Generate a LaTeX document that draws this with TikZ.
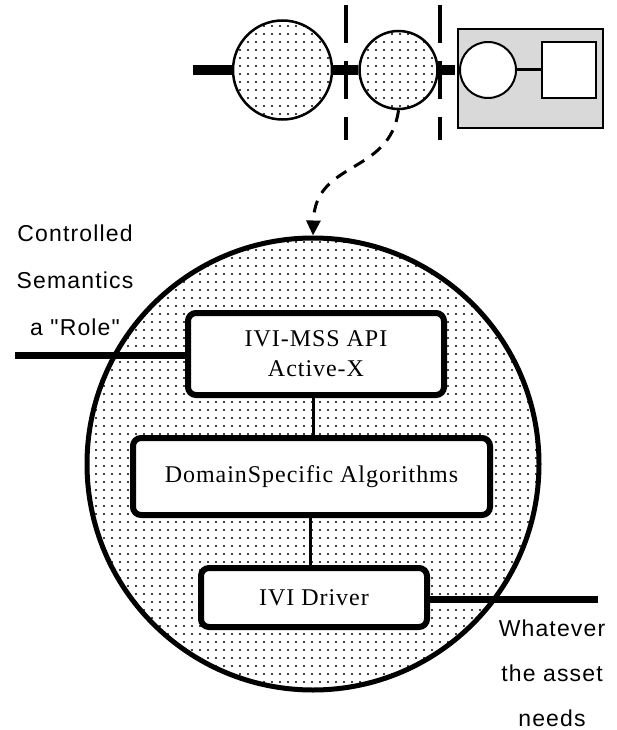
\documentclass[tikz,border=0pt]{standalone}
\usepackage{fontspec}
\setmainfont{Liberation Serif}
\newfontfamily\labelfont[LetterSpace=5]{Liberation Sans}
\newfontfamily\boxfont[LetterSpace=4]{Liberation Serif}
\usetikzlibrary{patterns.meta,arrows.meta}

\tikzset{
  dotfill/.style={pattern={Dots[radius=1.1pt,distance=8pt]}},
  layerbox/.style={draw, rectangle, rounded corners=8pt, line width=6pt, fill=white,
    inner sep=0pt, align=center, font=\boxfont\fontsize{24}{30}\selectfont},
  sidelabel/.style={align=center, inner sep=0pt, font=\labelfont\fontsize{23}{47}\selectfont},
  chain/.style={line width=10pt},
  link/.style={line width=3pt},
  cut/.style={line width=3.5pt, dash pattern=on 38pt off 18pt},
}

\begin{document}
\begin{tikzpicture}[x=1pt, y=-1pt, >={Triangle[length=15pt,width=14pt]}]
  \useasboundingbox (0,0) rectangle (616,730);
  % ------- top: the chain of assets -------
  \node[draw, circle, line width=2.5pt, dotfill, minimum size=99pt, inner sep=0pt] (asset1) at (282.5,70) {};
  \node[draw, circle, line width=2.5pt, dotfill, minimum size=78pt, inner sep=0pt] (asset2) at (398.5,70) {};
  \node[draw, rectangle, line width=2pt, fill=gray!30, minimum width=145pt, minimum height=99pt, inner sep=0pt] (hw) at (530.5,78.5) {};
  \node[draw, circle, line width=2pt, fill=white, minimum size=56pt, inner sep=0pt] (hwport) at (488,70) {};
  \node[draw, rectangle, line width=2pt, fill=white, minimum width=54pt, minimum height=56pt, inner sep=0pt] (hwdev) at (569,70) {};
  \coordinate (chainstart) at (193,70);
  \draw[chain] (chainstart) -- (asset1.west);
  \draw[chain] (asset1.east) -- (asset2.west);
  \draw[chain] (asset2.east) -- (455,70);
  \draw[link] (hwport.east) -- (hwdev.west);
  \foreach \x in {346,440} {
    \draw[cut] (\x,5) -- (\x,140);
  }
  % ------- the big asset, opened up -------
  \node[draw, circle, line width=5pt, dotfill, minimum size=452pt, inner sep=0pt] (core) at (313,464) {};
  \draw[line width=3pt, dash pattern=on 12pt off 9pt, ->] (asset2.south) .. controls (390,175) and (315,160) .. (core.north);
  \node[layerbox, minimum width=256pt, minimum height=82pt] (api) at (316,354) {IVI-MSS API\\Active-X};
  \node[layerbox, minimum width=357pt, minimum height=77pt] (algo) at (311.5,476.5) {DomainSpecific Algorithms};
  \node[layerbox, minimum width=226pt, minimum height=59pt] (driver) at (314,597.5) {IVI Driver};
  \draw[link] (api.south -| 313,0) -- (algo.north -| 313,0);
  \draw[link] (algo.south -| 310,0) -- (driver.north -| 310,0);
  % ------- outside connections -------
  \coordinate (roleend) at (15,355);
  \coordinate (assetend) at (598,599);
  \draw[line width=7pt] (roleend) -- (api.west |- roleend);
  \draw[line width=7pt] (driver.east |- assetend) -- (assetend);
  \node[sidelabel] (role) at (75,280) {Controlled\\Semantics\\a "Role"};
  \node[sidelabel, font=\labelfont\fontsize{23}{45}\selectfont] (needs) at (552,673) {Whatever\\the asset\\needs};
\end{tikzpicture}
\end{document}
